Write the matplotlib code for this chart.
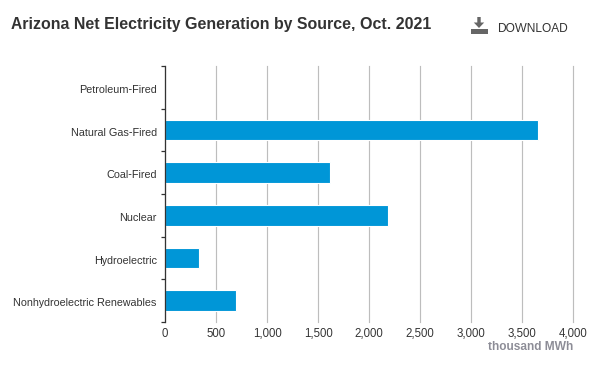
import matplotlib
matplotlib.use('Agg')
import matplotlib.pyplot as plt
from matplotlib.patches import Polygon, Rectangle
from matplotlib.transforms import Affine2D

plt.rcParams['font.family'] = ['Liberation Sans', 'DejaVu Sans']
plt.rcParams['text.hinting'] = 'no_autohint'

W, H = 605, 371

categories = ['Petroleum-Fired', 'Natural Gas-Fired', 'Coal-Fired', 'Nuclear',
              'Hydroelectric', 'Nonhydroelectric Renewables']
values = [2, 3652, 1613, 2181, 328, 691]
xticks = [0, 500, 1000, 1500, 2000, 2500, 3000, 3500, 4000]
xlabels = ['0', '500', '1,000', '1,500', '2,000', '2,500', '3,000', '3,500', '4,000']

fig = plt.figure(figsize=(W / 100, H / 100), dpi=100)
fig.patch.set_facecolor('white')

left, right, top, bottom = 165.2, 573.2, 66, 322
ax = fig.add_axes([left / W, 1 - bottom / H, (right - left) / W, (bottom - top) / H])

pos = list(range(len(categories)))
ax.barh(pos, values, height=0.49, color='#0096d7', edgecolor='white', linewidth=0.8, zorder=3)
ax.set_xlim(0, 4000)
ax.set_ylim(5.5, -0.5)

ax.set_xticks(xticks)
ax.set_xticklabels(xlabels, fontsize=8.3, color='#333333')
ax.tick_params(axis='x', length=0, pad=4.5)
ax.grid(axis='x', color='#bdbdbd', linewidth=0.85, zorder=1, clip_on=False)
ax.set_axisbelow(True)

# labels sit between the ticks, ticks mark the category edges
ax.set_yticks([p - 0.5 for p in pos] + [5.5])
ax.set_yticklabels([])
ax.tick_params(axis='y', length=3, width=0.9, color='#333333')
for p, c in zip(pos, categories):
    ax.annotate(c, xy=(0, p), xytext=(-6, -1.8), textcoords='offset points', ha='right',
                va='center', fontsize=7.85, color='#333333')

for s in ['top', 'right', 'bottom']:
    ax.spines[s].set_visible(False)
ax.spines['left'].set_color('#333333')
ax.spines['left'].set_linewidth(0.9)
ax.spines['left'].set_zorder(5)

to_fig = Affine2D().scale(1, -1).translate(0, H)
fig.text(11 / W, 1 - 24 / H, 'Arizona Net Electricity Generation by Source, Oct. 2021',
         fontsize=11.52, fontweight='bold', color='#333333', va='center')
fig.text(497 / W, 1 - 28 / H, 'DOWNLOAD', fontsize=8.6, color='#333333', va='center')
fig.text(573.5 / W, 1 - 346.5 / H, 'thousand MWh', fontsize=8.6, fontweight='bold',
         color='#8c8c96', ha='right', va='center')

# download icon
fig.add_artist(Rectangle((471, 29), 17, 4.5, color='#666666', lw=0, transform=to_fig))
fig.add_artist(Polygon([(477.3, 17), (480.7, 17), (480.7, 22.5), (484.2, 22.5), (479, 28),
                        (473.8, 22.5), (477.3, 22.5)], closed=True, color='#666666', lw=0,
                       transform=to_fig))

fig.savefig('out.png', dpi=100)
